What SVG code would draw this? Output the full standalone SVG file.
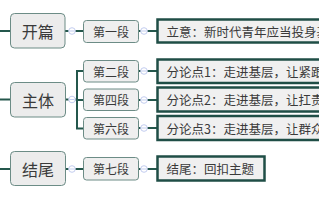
<svg xmlns="http://www.w3.org/2000/svg" width="319" height="200" viewBox="0 0 319 200">
<style>
text{font-family:"Noto Sans CJK SC","Noto Sans",sans-serif;fill:#3a3a3a;dominant-baseline:central}
.l1 rect{fill:#ececec;stroke:#6c8c86;stroke-width:1}
.l1 text{font-size:16px;text-anchor:middle}
.l2 rect{fill:#efefef;stroke:#6c8c86;stroke-width:1}
.l2 text{font-size:12px;text-anchor:middle}
.l3 rect{fill:#f0f0f0;stroke:#1f4e46;stroke-width:2.5}
.l3 text{font-size:12.5px}
.c line,.c path{stroke:#24574c;stroke-width:2;fill:none}
.k circle{fill:#fff;stroke:#c3cdf0;stroke-width:1}
.k line{stroke:#c3cdf0;stroke-width:1}
</style>
<g id="connectors" class="c">
<line x1="0" y1="31" x2="11" y2="31"/>
<line x1="0" y1="99.5" x2="11" y2="99.5"/>
<line x1="0" y1="169" x2="11" y2="169"/>
<line x1="65" y1="31" x2="84" y2="31"/>
<line x1="138" y1="31" x2="158" y2="31"/>
<line x1="65" y1="99.5" x2="77" y2="99.5"/>
<path d="M84 71H77V128.5H84M77 100H84"/>
<line x1="138" y1="71" x2="158" y2="71"/>
<line x1="138" y1="100" x2="158" y2="100"/>
<line x1="138" y1="128" x2="158" y2="128"/>
<line x1="65" y1="169" x2="84" y2="169"/>
<line x1="138" y1="169" x2="158" y2="169"/>
</g>
<g id="node-kaipian" class="l1"><rect x="10.5" y="13.5" width="54.5" height="34.5" rx="4"/><text x="37.75" y="30.75">开篇</text></g>
<g id="node-zhuti" class="l1"><rect x="10.5" y="82.5" width="55" height="34.5" rx="4"/><text x="38" y="99.75">主体</text></g>
<g id="node-jiewei" class="l1"><rect x="10.5" y="151.5" width="55" height="34" rx="4"/><text x="38" y="168.5">结尾</text></g>
<g id="node-p1" class="l2"><rect x="83.5" y="20.5" width="55" height="22" rx="3"/><text x="111" y="31.5">第一段</text></g>
<g id="node-p2" class="l2"><rect x="83.5" y="60.5" width="55" height="21.5" rx="3"/><text x="111" y="71.25">第二段</text></g>
<g id="node-p4" class="l2"><rect x="83.5" y="89" width="55" height="21.5" rx="3"/><text x="111" y="99.75">第四段</text></g>
<g id="node-p6" class="l2"><rect x="83.5" y="117.5" width="55" height="21.5" rx="3"/><text x="111" y="128.25">第六段</text></g>
<g id="node-p7" class="l2"><rect x="83.5" y="157.5" width="55" height="22.5" rx="3"/><text x="111" y="168.75">第七段</text></g>
<g id="node-liyi" class="l3"><rect x="157.5" y="19.5" width="180" height="23"/><text x="166.5" y="31">立意：新时代青年应当投身基</text></g>
<g id="node-f1" class="l3"><rect x="157.5" y="59.5" width="180" height="23.5"/><text x="166.5" y="71.25">分论点1：走进基层，让紧跟</text></g>
<g id="node-f2" class="l3"><rect x="157.5" y="87.5" width="180" height="24"/><text x="166.5" y="99.5">分论点2：走进基层，让扛责</text></g>
<g id="node-f3" class="l3"><rect x="157.5" y="116" width="180" height="24"/><text x="166.5" y="128">分论点3：走进基层，让群众</text></g>
<g id="node-jw" class="l3"><rect x="157.5" y="156.5" width="107" height="24"/><text x="166.5" y="168.5">结尾：回扣主题</text></g>
<g id="toggles" class="k">
<circle cx="72" cy="31" r="3.3"/><line x1="69.5" y1="31" x2="74.5" y2="31"/>
<circle cx="144" cy="31" r="3.3"/><line x1="141.5" y1="31" x2="146.5" y2="31"/>
<circle cx="72" cy="99.5" r="3.3"/><line x1="69.5" y1="99.5" x2="74.5" y2="99.5"/>
<circle cx="144" cy="71" r="3.3"/><line x1="141.5" y1="71" x2="146.5" y2="71"/>
<circle cx="144" cy="100" r="3.3"/><line x1="141.5" y1="100" x2="146.5" y2="100"/>
<circle cx="144" cy="128" r="3.3"/><line x1="141.5" y1="128" x2="146.5" y2="128"/>
<circle cx="72" cy="169" r="3.3"/><line x1="69.5" y1="169" x2="74.5" y2="169"/>
<circle cx="144" cy="169" r="3.3"/><line x1="141.5" y1="169" x2="146.5" y2="169"/>
</g>
</svg>
